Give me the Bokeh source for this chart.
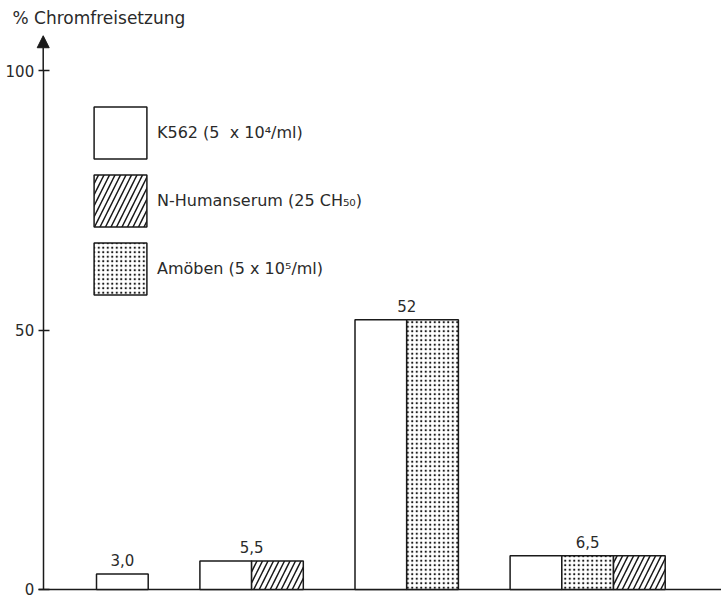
from bokeh.plotting import figure
from bokeh.models import (Range1d, FixedTicker, Arrow, NormalHead, Label,
                          Legend, LegendItem, ColumnDataSource)
from bokeh.embed import file_html
from bokeh.resources import INLINE

# ---- data ----
groups = ["K562", "K562 + N-Humanserum", "K562 + Amöben", "K562 + Amöben + N-Humanserum"]
k562 = [3.0, 5.5, 52.0, 6.5]
amoeben = [None, None, 52.0, 6.5]
serum = [None, 5.5, None, 6.5]
value_labels = ["3,0", "5,5", "52", "6,5"]
y_ticks = [0, 50, 100]
legend_labels = ["K562 (5  x 10⁴/ml)", "N-Humanserum (25 CH₅₀)", "Amöben (5 x 10⁵/ml)"]
y_title = "% Chromfreisetzung"

# ---- layout of bars (one slot per bar, one empty slot between groups) ----
series = [k562, amoeben, serum]
bx = {0: [], 1: [], 2: []}
bt = {0: [], 1: [], 2: []}
lab_x, lab_y = [], []
pos = 0.0
for gi in range(len(groups)):
    present = [si for si in range(3) if series[si][gi] is not None]
    for i, si in enumerate(present):
        bx[si].append(pos + i + 0.5)
        bt[si].append(series[si][gi])
    lab_x.append(pos + len(present) / 2)
    lab_y.append(max(series[si][gi] for si in present))
    pos += len(present) + 1

FONT = "DejaVu Sans"
TXT = "#2a2a2a"
INK = "#1a1a1a"
X0, X1 = -1.857, 12.089
Y0, Y1 = -1.927, 113.49
AX = -1.031          # x position of the value axis

p = figure(width=721, height=599, output_backend="svg", toolbar_location=None,
           x_range=Range1d(X0, X1), y_range=Range1d(Y0, Y1),
           min_border_left=0, min_border_right=0, min_border_top=0, min_border_bottom=0)
p.outline_line_color = None
p.grid.visible = False
p.xaxis.visible = False
p.background_fill_color = "white"

ya = p.yaxis[0]
ya.fixed_location = AX
ya.ticker = FixedTicker(ticks=y_ticks)
ya.bounds = (0, 100)
ya.axis_line_width = 1.5
ya.axis_line_color = INK
ya.major_tick_line_width = 1.5
ya.major_tick_line_color = INK
ya.major_tick_in = 6
ya.major_tick_out = 5
ya.minor_tick_line_color = None
ya.major_label_standoff = 4
ya.major_label_text_font = FONT
ya.major_label_text_font_size = "15px"
ya.major_label_text_color = TXT

# baseline
p.segment(x0=[AX - 0.09], y0=[0], x1=[X1], y1=[0], line_color=INK, line_width=1.5)

W = 1.0
r_k = p.vbar(x=bx[0], top=bt[0], bottom=0, width=W, fill_color="white",
             line_color=INK, line_width=1.5)
r_a = p.vbar(x=bx[1], top=bt[1], bottom=0, width=W, fill_color="white",
             line_color=INK, line_width=1.5,
             hatch_pattern="dot", hatch_scale=4.5, hatch_color=INK, hatch_weight=1)
r_s = p.vbar(x=bx[2], top=bt[2], bottom=0, width=W, fill_color="white",
             line_color=INK, line_width=1.5,
             hatch_pattern="/", hatch_scale=11, hatch_color=INK, hatch_weight=1.5)

src = ColumnDataSource(dict(x=lab_x, y=lab_y, t=value_labels))
p.text(x="x", y="y", text="t", source=src, text_align="center", text_baseline="bottom",
       y_offset=-8, text_font_size="15px", text_color=TXT, text_font={"value": FONT})

p.add_layout(Arrow(end=NormalHead(size=12, fill_color=INK, line_color=INK),
                   x_start=AX, y_start=100, x_end=AX, y_end=106.7,
                   line_width=1.5, line_color=INK))

p.add_layout(Label(x=-1.625, y=110.1, text=y_title, text_baseline="middle",
                   text_font=FONT, text_font_size="17px", text_color=TXT))

legend = Legend(items=[LegendItem(label=legend_labels[0], renderers=[r_k]),
                       LegendItem(label=legend_labels[1], renderers=[r_s]),
                       LegendItem(label=legend_labels[2], renderers=[r_a])],
                location=(87, 298), glyph_width=66, glyph_height=65, spacing=3,
                label_standoff=4, padding=0, margin=0, border_line_color=None,
                background_fill_alpha=0, label_text_font=FONT,
                label_text_font_size="16px", label_text_color=TXT)
p.add_layout(legend)

open("out.html", "w").write(file_html(p, INLINE))
